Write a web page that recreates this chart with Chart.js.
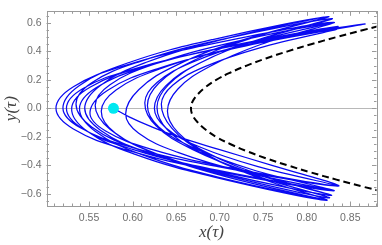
<!DOCTYPE html>
<html>
<head>
<meta charset="utf-8">
<script src="https://cdn.jsdelivr.net/npm/chart.js@4.4.0/dist/chart.umd.min.js"></script>
<style>
  html, body { margin: 0; padding: 0; background: #fff; }
  #chart { display: block; }
</style>
</head>
<body>
<canvas id="chart" width="382" height="245"></canvas>
<script>
// trajectory, arc by arc (tip -> vertex -> tip)
const pathX = [
  0.578, 0.596, 0.620, 0.650, 0.700, 0.760, 0.836,
  0.698, 0.599, 0.540, 0.520, 0.539, 0.596, 0.692, 0.825,
  0.734, 0.669, 0.630, 0.617, 0.630, 0.671, 0.737, 0.831,
  0.691, 0.592, 0.532, 0.512, 0.532, 0.592, 0.691, 0.831,
  0.747, 0.688, 0.652, 0.640, 0.652, 0.687, 0.746, 0.828,
  0.700, 0.608, 0.553, 0.535, 0.553, 0.609, 0.700, 0.829,
  0.740, 0.676, 0.638, 0.625, 0.638, 0.678, 0.744, 0.836,
  0.711, 0.622, 0.569, 0.551, 0.571, 0.630, 0.729, 0.867,
  0.720, 0.614, 0.551, 0.530, 0.548, 0.603, 0.695, 0.823,
  0.740, 0.681, 0.645, 0.633, 0.646, 0.683, 0.746, 0.834,
  0.698, 0.602, 0.543, 0.524, 0.543, 0.601, 0.697, 0.831,
  0.726, 0.652, 0.607, 0.592, 0.607, 0.650, 0.723, 0.825,
  0.703, 0.615, 0.563, 0.545, 0.563, 0.616, 0.704, 0.828,
  0.734, 0.668, 0.627, 0.614, 0.628, 0.668, 0.736, 0.831,
  0.711, 0.626, 0.574, 0.557, 0.574, 0.624, 0.707, 0.823,
  0.699, 0.610, 0.557, 0.539, 0.558, 0.613, 0.706, 0.836,
  0.717, 0.632, 0.581, 0.564, 0.580, 0.630, 0.711, 0.826,
  0.739, 0.678, 0.640, 0.628, 0.641, 0.678, 0.741, 0.829
];
const pathY = [
  0, -0.060, -0.125, -0.195, -0.290, -0.400, -0.545,
  -0.409, -0.273, -0.136, 0, 0.161, 0.322, 0.483, 0.644,
  0.488, 0.332, 0.176, 0.020, -0.130, -0.279, -0.429, -0.578,
  -0.434, -0.289, -0.145, 0, 0.151, 0.302, 0.453, 0.604,
  0.448, 0.292, 0.136, -0.020, -0.168, -0.316, -0.463, -0.611,
  -0.451, -0.291, -0.130, 0.030, 0.180, 0.330, 0.480, 0.630,
  0.473, 0.315, 0.158, 0, -0.136, -0.273, -0.409, -0.545,
  -0.416, -0.288, -0.159, -0.030, 0.126, 0.281, 0.437, 0.592,
  0.444, 0.296, 0.148, 0, -0.161, -0.323, -0.484, -0.645,
  -0.476, -0.308, -0.139, 0.030, 0.162, 0.293, 0.425, 0.556,
  0.417, 0.278, 0.139, 0, -0.145, -0.289, -0.434, -0.578,
  -0.444, -0.309, -0.175, -0.040, 0.131, 0.302, 0.473, 0.644,
  0.483, 0.322, 0.161, 0, -0.153, -0.306, -0.458, -0.611,
  -0.448, -0.286, -0.123, 0.040, 0.181, 0.322, 0.463, 0.604,
  0.458, 0.312, 0.166, 0.020, -0.146, -0.313, -0.479, -0.645,
  -0.484, -0.323, -0.161, 0, 0.144, 0.288, 0.431, 0.575,
  0.426, 0.278, 0.129, -0.020, -0.172, -0.324, -0.476, -0.628,
  -0.469, -0.309, -0.150, 0.010, 0.165, 0.320, 0.475, 0.630
];

// dashed boundary curve
const boundX = [0.911, 0.865, 0.834, 0.805, 0.778, 0.753, 0.731, 0.712, 0.696, 0.684, 0.675, 0.669, 0.667,
                0.669, 0.675, 0.684, 0.696, 0.712, 0.731, 0.753, 0.778, 0.805, 0.834, 0.865, 0.911];
const boundY = [-0.62, -0.55, -0.50, -0.45, -0.40, -0.35, -0.30, -0.25, -0.20, -0.15, -0.10, -0.05, 0,
                0.05, 0.10, 0.15, 0.20, 0.25, 0.30, 0.35, 0.40, 0.45, 0.50, 0.55, 0.62];

// starting point
const startX = [0.578];
const startY = [0];

const xTicks = [0.55, 0.60, 0.65, 0.70, 0.75, 0.80, 0.85];
const yTicks = [-0.6, -0.4, -0.2, 0.0, 0.2, 0.4, 0.6];

function toPoints(xs, ys) {
  return xs.map(function (x, i) { return { x: x, y: ys[i] }; });
}

// frame with inward ticks, like the original plot
const framePlugin = {
  id: 'frame',
  beforeDatasetsDraw: function (chart) {
    const ctx = chart.ctx;
    const a = chart.chartArea;
    const yp = Math.round(chart.scales.y.getPixelForValue(0)) + 0.5;
    ctx.save();
    ctx.strokeStyle = '#b8b8b8';
    ctx.lineWidth = 1;
    ctx.beginPath();
    ctx.moveTo(a.left, yp);
    ctx.lineTo(a.right, yp);
    ctx.stroke();
    ctx.restore();
  },
  afterDatasetsDraw: function (chart) {
    const ctx = chart.ctx;
    const a = chart.chartArea;
    const xs = chart.scales.x;
    const ys = chart.scales.y;
    ctx.save();
    ctx.strokeStyle = '#9a9a9a';
    ctx.lineWidth = 1;
    ctx.strokeRect(Math.round(a.left) + 0.5, Math.round(a.top) + 0.5,
                   Math.round(a.right - a.left), Math.round(a.bottom - a.top));
    ctx.beginPath();
    // x ticks, every 0.01, major every 0.05
    for (let i = 51; i <= 88; i++) {
      const px = Math.round(xs.getPixelForValue(i / 100)) + 0.5;
      const len = (i % 5 === 0) ? 4.5 : 2.5;
      ctx.moveTo(px, a.bottom); ctx.lineTo(px, a.bottom - len);
      ctx.moveTo(px, a.top); ctx.lineTo(px, a.top + len);
    }
    // y ticks, every 0.05, major every 0.2
    for (let i = -13; i <= 13; i++) {
      const py = Math.round(ys.getPixelForValue(i / 20)) + 0.5;
      const len = (i % 4 === 0) ? 4.5 : 2.5;
      ctx.moveTo(a.left, py); ctx.lineTo(a.left + len, py);
      ctx.moveTo(a.right, py); ctx.lineTo(a.right - len, py);
    }
    ctx.stroke();
    ctx.restore();
  }
};

const tickFont = { family: "'Liberation Sans', Arial, sans-serif", size: 10.5 };
const titleFont = { family: "'Liberation Serif', 'Times New Roman', serif", size: 17, style: 'italic' };

new Chart(document.getElementById('chart'), {
  type: 'scatter',
  data: {
    datasets: [
      {
        data: toPoints(startX, startY),
        pointRadius: 5.5,
        pointBackgroundColor: '#00e8f0',
        pointBorderWidth: 0,
        showLine: false
      },
      {
        data: toPoints(boundX, boundY),
        showLine: true,
        borderColor: '#000',
        borderWidth: 2,
        borderDash: [7, 4],
        tension: 0.4,
        pointRadius: 0
      },
      {
        data: toPoints(pathX, pathY),
        showLine: true,
        borderColor: '#0a0af2',
        borderWidth: 1.25,
        tension: 0.4,
        pointRadius: 0
      }
    ]
  },
  options: {
    responsive: false,
    animation: false,
    devicePixelRatio: 1,
    layout: { padding: { top: 1, right: 4, left: 0, bottom: 0 } },
    plugins: { legend: { display: false }, tooltip: { enabled: false } },
    scales: {
      x: {
        type: 'linear',
        min: 0.5011,
        max: 0.8801,
        grid: { display: false, drawTicks: false },
        border: { display: false },
        afterBuildTicks: function (s) { s.ticks = xTicks.map(function (v) { return { value: v }; }); },
        afterFit: function (s) { s.height = 39; },
        ticks: {
          color: '#6e6e6e',
          font: tickFont,
          padding: 6,
          maxRotation: 0,
          autoSkip: false,
          callback: function (v) { return v.toFixed(2); }
        },
        title: {
          display: true,
          text: 'x(τ)',
          color: '#444',
          font: titleFont,
          padding: { top: 0, bottom: 2 }
        }
      },
      y: {
        type: 'linear',
        min: -0.685,
        max: 0.681,
        grid: { display: false, drawTicks: false },
        border: { display: false },
        afterBuildTicks: function (s) { s.ticks = yTicks.map(function (v) { return { value: v }; }); },
        afterFit: function (s) { s.width = 46.5; },
        ticks: {
          color: '#6e6e6e',
          font: tickFont,
          padding: 5,
          autoSkip: false,
          callback: function (v) { return (v < 0 ? '\u2212' : '') + Math.abs(v).toFixed(1); }
        },
        title: {
          display: true,
          text: 'y(τ)',
          color: '#444',
          font: titleFont,
          padding: { top: 1, bottom: 0 }
        }
      }
    }
  },
  plugins: [framePlugin]
});
</script>
</body>
</html>
